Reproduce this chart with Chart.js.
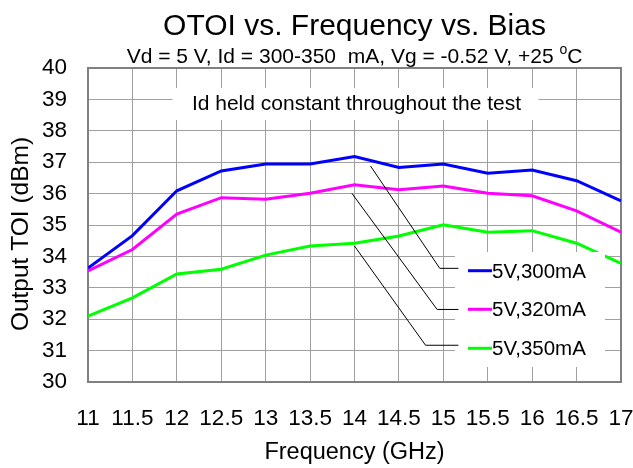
<!DOCTYPE html>
<html><head><meta charset="utf-8">
<script src="https://cdn.jsdelivr.net/npm/chart.js@4.4.1/dist/chart.umd.min.js"></script>
<style>html,body{margin:0;padding:0;background:#fff;}canvas{display:block;}</style>
</head><body>
<canvas id="c" width="633" height="468"></canvas>
<script>
// ---- data ----
const freqs = [11, 11.5, 12, 12.5, 13, 13.5, 14, 14.5, 15, 15.5, 16, 16.5, 17];
const xTickLabels = ['11','11.5','12','12.5','13','13.5','14','14.5','15','15.5','16','16.5','17'];
const yTickLabels = ['30','31','32','33','34','35','36','37','38','39','40'];
const toi300 = [33.63, 34.66, 36.09, 36.72, 36.94, 36.94, 37.18, 36.83, 36.94, 36.65, 36.75, 36.41, 35.77];
const toi320 = [33.54, 34.22, 35.35, 35.87, 35.82, 36.01, 36.28, 36.12, 36.24, 36.01, 35.93, 35.45, 34.77];
const toi350 = [32.10, 32.68, 33.44, 33.59, 34.04, 34.33, 34.42, 34.65, 35.01, 34.77, 34.82, 34.42, 33.78];
const seriesLabels = ['5V,300mA', '5V,320mA', '5V,350mA'];
const titleText = 'OTOI vs. Frequency vs. Bias';
const subtitleMain = 'Vd = 5 V, Id = 300-350  mA, Vg = -0.52 V, +25 ';
const subtitleSup = 'o';
const subtitleEnd = 'C';
const noteText = 'Id held constant throughout the test';
const xTitle = 'Frequency (GHz)';
const yTitle = 'Output TOI (dBm)';

// ---- styling ----
const FONT = "'Liberation Sans', Arial, sans-serif";
const colors = ['#0000ff', '#ff00ff', '#00ff00'];
const series = [toi300, toi320, toi350];

const decor = {
  id: 'decor',
  beforeDatasetsDraw(chart) {
    const {ctx, chartArea: a} = chart;
    ctx.save();
    ctx.strokeStyle = '#808080';
    ctx.lineWidth = 2;
    ctx.strokeRect(a.left, a.top, a.right - a.left, a.bottom - a.top);
    ctx.restore();
  },
  afterDatasetsDraw(chart) {
    const {ctx, chartArea: a, scales: {x, y}} = chart;
    const cx = (a.left + a.right) / 2;
    ctx.save();
    ctx.fillStyle = '#000';
    // title
    ctx.textAlign = 'center';
    ctx.textBaseline = 'alphabetic';
    ctx.font = `30px ${FONT}`;
    ctx.fillText(titleText, cx, 35);
    // subtitle with superscript
    ctx.font = `21px ${FONT}`;
    const w1 = ctx.measureText(subtitleMain).width;
    const w3 = ctx.measureText(subtitleEnd).width;
    ctx.font = `14px ${FONT}`;
    const w2 = ctx.measureText(subtitleSup).width;
    let sx = cx - (w1 + w2 + w3) / 2;
    ctx.textAlign = 'left';
    ctx.font = `21px ${FONT}`;
    ctx.fillText(subtitleMain, sx, 62.5);
    ctx.font = `14px ${FONT}`;
    ctx.fillText(subtitleSup, sx + w1, 54);
    ctx.font = `21px ${FONT}`;
    ctx.fillText(subtitleEnd, sx + w1 + w2, 62.5);
    // y axis title
    ctx.save();
    ctx.translate(21, 234);
    ctx.rotate(-Math.PI / 2);
    ctx.textAlign = 'center';
    ctx.textBaseline = 'middle';
    ctx.font = `24.5px ${FONT}`;
    ctx.fillText(yTitle, 0, 0);
    ctx.restore();
    // note box
    ctx.fillStyle = '#fff';
    ctx.fillRect(cx - 182, a.top + 20, 366, 32);
    ctx.fillStyle = '#000';
    ctx.textAlign = 'center';
    ctx.textBaseline = 'middle';
    ctx.font = `21px ${FONT}`;
    ctx.fillText(noteText, cx + 2, a.top + 36.5);
    // legend box
    ctx.fillStyle = '#fff';
    ctx.fillRect(455, 252, 150, 115);
    // leader lines (data coordinates)
    const leaders = [
      [[14.18, 36.88], [14.96, 33.62], [15.17, 33.62]],
      [[13.97, 36.01], [14.93, 32.31], [15.17, 32.31]],
      [[14.00, 34.33], [14.80, 31.17], [15.17, 31.17]]
    ];
    ctx.strokeStyle = '#000';
    ctx.lineWidth = 1;
    leaders.forEach(pts => {
      ctx.beginPath();
      pts.forEach((p, i) => {
        const px = x.getPixelForValue(p[0]), py = y.getPixelForValue(p[1]);
        if (i === 0) ctx.moveTo(px, py); else ctx.lineTo(px, py);
      });
      ctx.stroke();
    });
    // legend entries
    const ly = [270.7, 309.3, 348.3];
    chart.data.datasets.forEach((ds, i) => {
      ctx.strokeStyle = ds.borderColor;
      ctx.lineWidth = 3;
      ctx.beginPath();
      ctx.moveTo(468, ly[i]);
      ctx.lineTo(492, ly[i]);
      ctx.stroke();
      ctx.fillStyle = '#000';
      ctx.textAlign = 'left';
      ctx.textBaseline = 'middle';
      ctx.font = `20.5px ${FONT}`;
      ctx.fillText(ds.label, 492, ly[i] + 1.5);
    });
    ctx.restore();
  }
};

new Chart(document.getElementById('c'), {
  type: 'line',
  data: {
    datasets: series.map((vals, i) => ({
      label: seriesLabels[i],
      data: freqs.map((f, j) => ({x: f, y: vals[j]})),
      borderColor: colors[i],
      backgroundColor: colors[i],
      borderWidth: 3,
      pointRadius: 0,
      tension: 0,
      fill: false
    }))
  },
  options: {
    responsive: false,
    animation: false,
    devicePixelRatio: 1,
    layout: {padding: {left: 0, right: 12, top: 68, bottom: 0}},
    plugins: {legend: {display: false}, title: {display: false}, tooltip: {enabled: false}},
    scales: {
      x: {
        type: 'linear', min: 11, max: 17,
        afterFit(s) { s.height = 86; s.paddingLeft = 0; s.paddingRight = 0; },
        ticks: {
          stepSize: 0.5, autoSkip: false, maxRotation: 0, minRotation: 0,
          padding: 23.5, color: '#000', font: {family: FONT, size: 22.5},
          callback: (v, i) => xTickLabels[i]
        },
        grid: {color: '#a0a0a0', lineWidth: 1, drawTicks: false},
        border: {display: false},
        title: {display: true, text: xTitle, color: '#000', font: {family: FONT, size: 23.5}, padding: {top: 0, bottom: 1}}
      },
      y: {
        type: 'linear', min: 30, max: 40,
        afterFit(s) { s.width = 88; s.paddingTop = 0; s.paddingBottom = 0; },
        ticks: {
          stepSize: 1, padding: 21, color: '#000', font: {family: FONT, size: 22.5},
          callback: (v, i) => yTickLabels[i]
        },
        grid: {color: '#a0a0a0', lineWidth: 1, drawTicks: false},
        border: {display: false}
      }
    }
  },
  plugins: [decor]
});
</script>
</body></html>
